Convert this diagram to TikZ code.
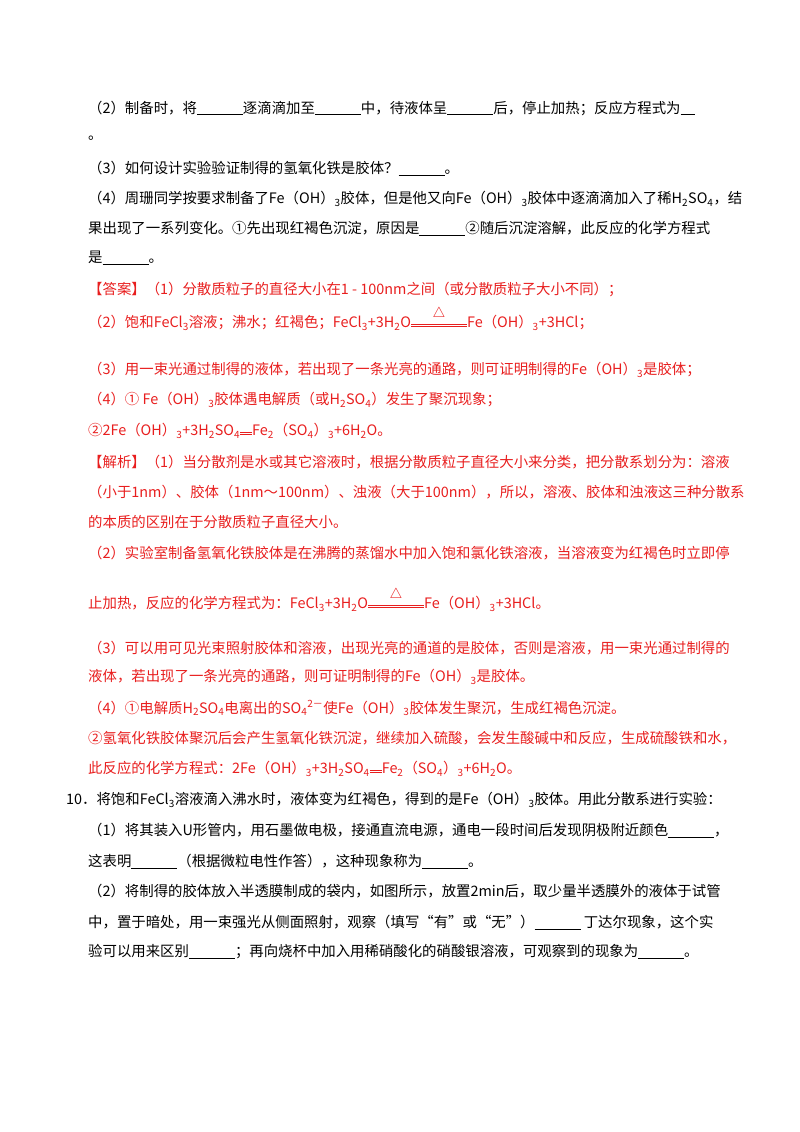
\documentclass[tikz,border=0pt]{standalone}
\usepackage{fontspec}
\setmainfont{Liberation Serif}
\newfontfamily\cjk{Noto Sans CJK SC}
\definecolor{ans}{RGB}{232,30,30}
\newcommand{\bk}[1][46pt]{\rule[-2pt]{#1}{0.6pt}}
\newcommand{\sbs}[1]{\textsubscript{#1}}
\newcommand{\heat}[1][56pt]{\hbox{\ooalign{\raisebox{1.5pt}{\rule{#1}{0.5pt}}\cr\raisebox{3.5pt}{\rule{#1}{0.5pt}}\cr\hfil\raisebox{10pt}{$\triangle$}\hfil\cr}}}
\newcommand{\eqq}{\hbox{\ooalign{\raisebox{1.5pt}{\rule{12pt}{0.5pt}}\cr\raisebox{3.5pt}{\rule{12pt}{0.5pt}}\cr}}}
\begin{document}
\begin{tikzpicture}[x=1pt,y=-1pt,
  ln/.style={anchor=west,inner sep=0pt,font=\cjk\fontsize{14.4}{15}\selectfont},
  rd/.style={ln,text=ans}]
\useasboundingbox (0,0) rectangle (800,1132);
\node[ln] (l1) at (88,108) {（2）制备时，将\bk 逐滴滴加至\bk 中，待液体呈\bk 后，停止加热；反应方程式为\bk[14pt]};
\node[ln] (l2) at (88,138) {。};
\node[ln] (l3) at (88,168) {（3）如何设计实验验证制得的氢氧化铁是胶体？\bk 。};
\node[ln] (l4) at (88,199) {（4）周珊同学按要求制备了Fe（OH）\sbs{3}胶体，但是他又向Fe（OH）\sbs{3}胶体中逐滴滴加入了稀H\sbs{2}SO\sbs{4}，结};
\node[ln] (l5) at (88,228) {果出现了一系列变化。①先出现红褐色沉淀，原因是\bk ②随后沉淀溶解，此反应的化学方程式};
\node[ln] (l6) at (88,258) {是\bk 。};
\node[rd] (a1) at (88,289) {【答案】（1）分散质粒子的直径大小在1 - 100nm之间（或分散质粒子大小不同）；};
\node[rd] (a2) at (88,323) {（2）饱和FeCl\sbs{3}溶液；沸水；红褐色；FeCl\sbs{3}+3H\sbs{2}O\heat Fe（OH）\sbs{3}+3HCl；};
\node[rd] (a3) at (88,370) {（3）用一束光通过制得的液体，若出现了一条光亮的通路，则可证明制得的Fe（OH）\sbs{3}是胶体；};
\node[rd] (a4) at (88,400) {（4）① Fe（OH）\sbs{3}胶体遇电解质（或H\sbs{2}SO\sbs{4}）发生了聚沉现象；};
\node[rd] (a5) at (88,431) {②2Fe（OH）\sbs{3}+3H\sbs{2}SO\sbs{4}\eqq Fe\sbs{2}（SO\sbs{4}）\sbs{3}+6H\sbs{2}O。};
\node[rd] (b1) at (88,462) {【解析】（1）当分散剂是水或其它溶液时，根据分散质粒子直径大小来分类，把分散系划分为：溶液};
\node[rd] (b2) at (88,492) {（小于1nm）、胶体（1nm～100nm）、浊液（大于100nm），所以，溶液、胶体和浊液这三种分散系};
\node[rd] (b3) at (88,522) {的本质的区别在于分散质粒子直径大小。};
\node[rd] (b4) at (88,553) {（2）实验室制备氢氧化铁胶体是在沸腾的蒸馏水中加入饱和氯化铁溶液，当溶液变为红褐色时立即停};
\node[rd] (b5) at (88,604) {止加热，反应的化学方程式为：FeCl\sbs{3}+3H\sbs{2}O\heat Fe（OH）\sbs{3}+3HCl。};
\node[rd] (b6) at (88,648) {（3）可以用可见光束照射胶体和溶液，出现光亮的通道的是胶体，否则是溶液，用一束光通过制得的};
\node[rd] (b7) at (88,677) {液体，若出现了一条光亮的通路，则可证明制得的Fe（OH）\sbs{3}是胶体。};
\node[rd] (b8) at (88,708) {（4）①电解质H\sbs{2}SO\sbs{4}电离出的SO\sbs{4}\textsuperscript{2－}使Fe（OH）\sbs{3}胶体发生聚沉，生成红褐色沉淀。};
\node[rd] (b9) at (88,738) {②氢氧化铁胶体聚沉后会产生氢氧化铁沉淀，继续加入硫酸，会发生酸碱中和反应，生成硫酸铁和水，};
\node[rd] (b10) at (88,769) {此反应的化学方程式：2Fe（OH）\sbs{3}+3H\sbs{2}SO\sbs{4}\eqq Fe\sbs{2}（SO\sbs{4}）\sbs{3}+6H\sbs{2}O。};
\node[ln] (c1) at (66,800) {10．将饱和FeCl\sbs{3}溶液滴入沸水时，液体变为红褐色，得到的是Fe（OH）\sbs{3}胶体。用此分散系进行实验：};
\node[ln] (c2) at (88,830) {（1）将其装入U形管内，用石墨做电极，接通直流电源，通电一段时间后发现阴极附近颜色\bk ，};
\node[ln] (c3) at (88,861) {这表明\bk （根据微粒电性作答），这种现象称为\bk 。};
\node[ln] (c4) at (88,891) {（2）将制得的胶体放入半透膜制成的袋内，如图所示，放置2min后，取少量半透膜外的液体于试管};
\node[ln] (c5) at (88,922) {中，置于暗处，用一束强光从侧面照射，观察（填写“有”或“无”）\bk\ 丁达尔现象，这个实};
\node[ln] (c6) at (88,952) {验可以用来区别\bk ；再向烧杯中加入用稀硝酸化的硝酸银溶液，可观察到的现象为\bk 。};
\end{tikzpicture}
\end{document}
